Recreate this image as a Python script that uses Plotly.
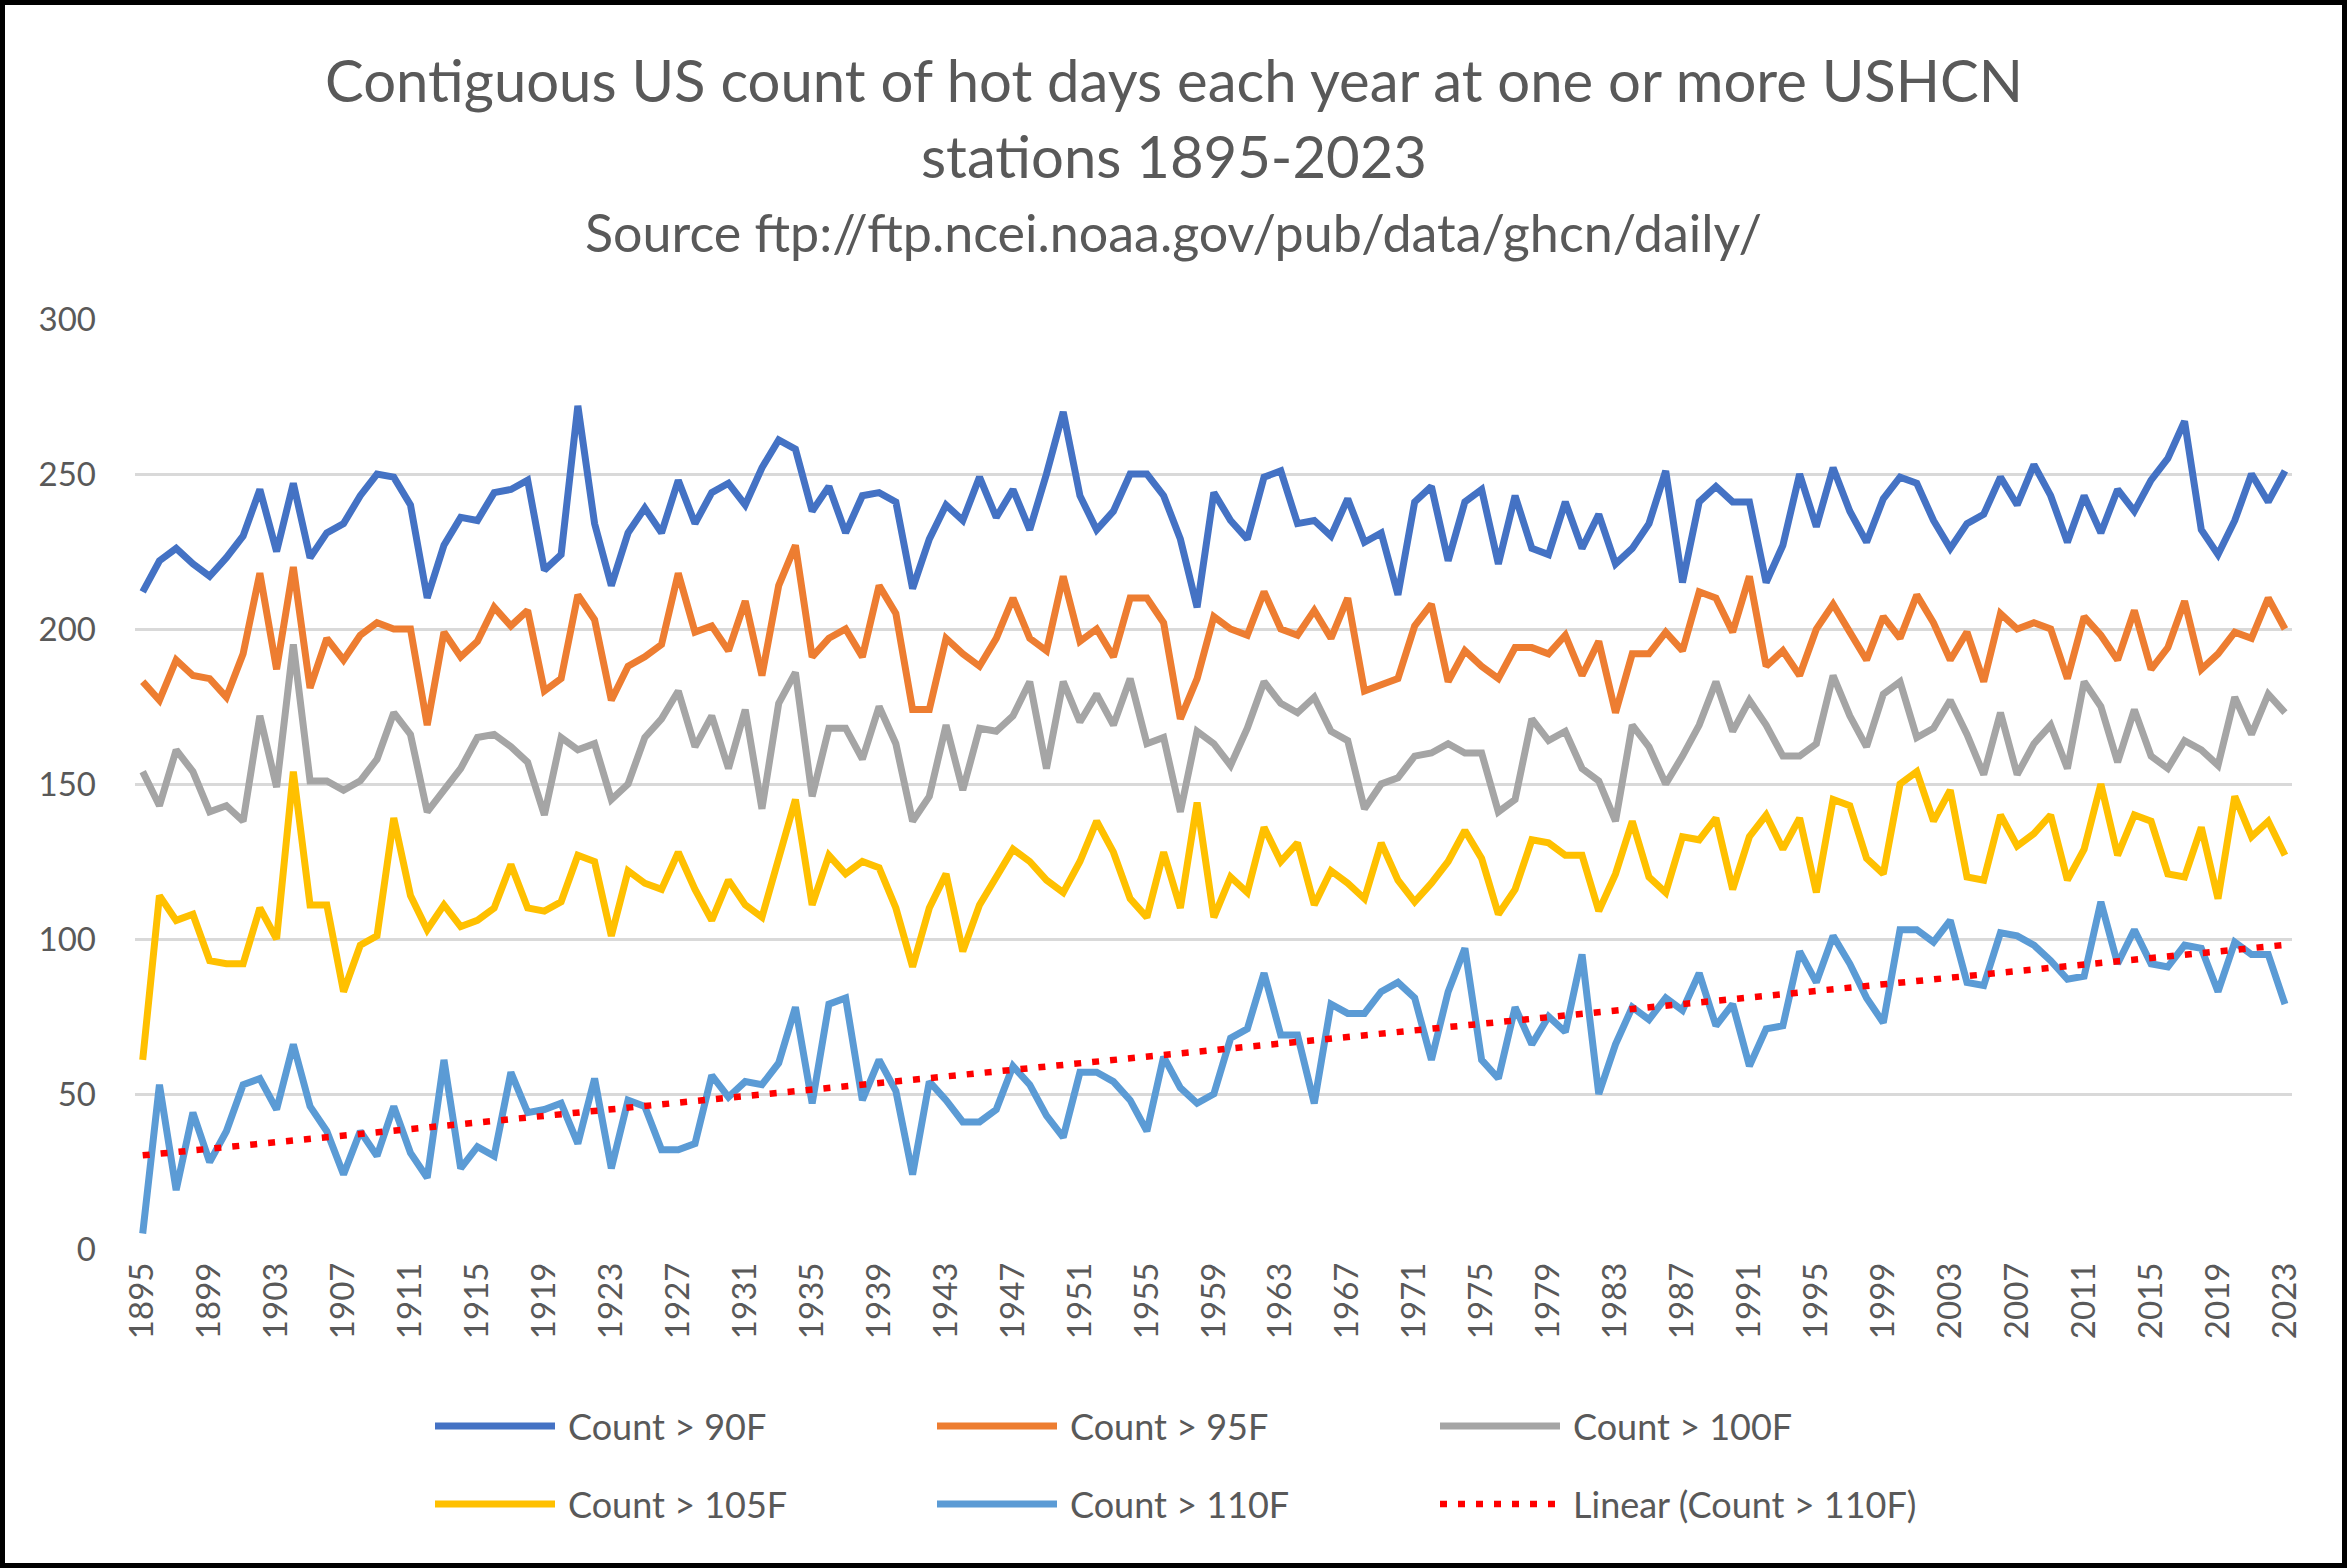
import numpy as np
import plotly.graph_objects as go

years = list(range(1895, 2024))

count_90 = [
    212, 222, 226, 221, 217,
    223, 230, 245, 225, 247, 223, 231, 234, 243, 250,
    249, 240, 210, 227, 236, 235, 244, 245, 248, 219,
    224, 272, 234, 214, 231, 239, 231, 248, 234, 244,
    247, 240, 252, 261, 258, 238, 246, 231, 243, 244,
    241, 213, 229, 240, 235, 249, 236, 245, 232, 250,
    270, 243, 232, 238, 250, 250, 243, 229, 207, 244,
    235, 229, 249, 251, 234, 235, 230, 242, 228, 231,
    211, 241, 246, 222, 241, 245, 221, 243, 226, 224,
    241, 226, 237, 221, 226, 234, 251, 215, 241, 246,
    241, 241, 215, 227, 250, 233, 252, 238, 228, 242,
    249, 247, 235, 226, 234, 237, 249, 240, 253, 243,
    228, 243, 231, 245, 238, 248, 255, 267, 232, 224,
    235, 250, 241, 251,
]

count_95 = [
    183, 177, 190, 185, 184,
    178, 192, 218, 187, 220, 181, 197, 190, 198, 202,
    200, 200, 169, 199, 191, 196, 207, 201, 206, 180,
    184, 211, 203, 177, 188, 191, 195, 218, 199, 201,
    193, 209, 185, 214, 227, 191, 197, 200, 191, 214,
    205, 174, 174, 197, 192, 188, 197, 210, 197, 193,
    217, 196, 200, 191, 210, 210, 202, 171, 184, 204,
    200, 198, 212, 200, 198, 206, 197, 210, 180, 182,
    184, 201, 208, 183, 193, 188, 184, 194, 194, 192,
    198, 185, 196, 173, 192, 192, 199, 193, 212, 210,
    199, 217, 188, 193, 185, 200, 208, 199, 190, 204,
    197, 211, 202, 190, 199, 183, 205, 200, 202, 200,
    184, 204, 198, 190, 206, 187, 194, 209, 187, 192,
    199, 197, 210, 200,
]

count_100 = [
    154, 143, 161, 154, 141,
    143, 138, 172, 149, 195, 151, 151, 148, 151, 158,
    173, 166, 141, 148, 155, 165, 166, 162, 157, 140,
    165, 161, 163, 145, 150, 165, 171, 180, 162, 172,
    155, 174, 142, 176, 186, 146, 168, 168, 158, 175,
    163, 138, 146, 169, 148, 168, 167, 172, 183, 155,
    183, 170, 179, 169, 184, 163, 165, 141, 167, 163,
    156, 168, 183, 176, 173, 178, 167, 164, 142, 150,
    152, 159, 160, 163, 160, 160, 141, 145, 171, 164,
    167, 155, 151, 138, 169, 162, 150, 159, 169, 183,
    167, 177, 169, 159, 159, 163, 185, 172, 162, 179,
    183, 165, 168, 177, 166, 153, 173, 153, 163, 169,
    155, 183, 175, 157, 174, 159, 155, 164, 161, 156,
    178, 166, 179, 173,
]

count_105 = [
    61, 114, 106, 108, 93,
    92, 92, 110, 100, 154, 111, 111, 83, 98, 101,
    139, 114, 103, 111, 104, 106, 110, 124, 110, 109,
    112, 127, 125, 101, 122, 118, 116, 128, 116, 106,
    119, 111, 107, 126, 145, 111, 127, 121, 125, 123,
    110, 91, 110, 121, 96, 111, 120, 129, 125, 119,
    115, 125, 138, 128, 113, 107, 128, 110, 144, 107,
    120, 115, 136, 125, 131, 111, 122, 118, 113, 131,
    119, 112, 118, 125, 135, 126, 108, 116, 132, 131,
    127, 127, 109, 121, 138, 120, 115, 133, 132, 139,
    116, 133, 140, 129, 139, 115, 145, 143, 126, 121,
    150, 154, 138, 148, 120, 119, 140, 130, 134, 140,
    119, 129, 150, 127, 140, 138, 121, 120, 136, 113,
    146, 133, 138, 127,
]

count_110 = [
    5, 53, 19, 44, 28,
    38, 53, 55, 45, 66, 46, 38, 24, 38, 30,
    46, 31, 23, 61, 26, 33, 30, 57, 44, 45,
    47, 34, 55, 26, 48, 46, 32, 32, 34, 56,
    49, 54, 53, 60, 78, 47, 79, 81, 48, 61,
    51, 24, 54, 48, 41, 41, 45, 59, 53, 43,
    36, 57, 57, 54, 48, 38, 62, 52, 47, 50,
    68, 71, 89, 69, 69, 47, 79, 76, 76, 83,
    86, 81, 61, 83, 97, 61, 55, 78, 66, 75,
    70, 95, 50, 66, 78, 74, 81, 77, 89, 72,
    79, 59, 71, 72, 96, 86, 101, 92, 81, 73,
    103, 103, 99, 106, 86, 85, 102, 101, 98, 93,
    87, 88, 112, 92, 103, 92, 91, 98, 97, 83,
    99, 95, 95, 79,
]

series_names = ["Count > 90F", "Count > 95F", "Count > 100F", "Count > 105F", "Count > 110F"]
trend_name = "Linear (Count > 110F)"
title_lines = ["Contiguous US count of hot days each year at one or more USHCN",
               "stations 1895-2023"]
source_line = "Source ftp://ftp.ncei.noaa.gov/pub/data/ghcn/daily/"

for s in (count_90, count_95, count_100, count_105, count_110):
    assert len(s) == len(years), len(s)

colors = ["#4472C4", "#ED7D31", "#A5A5A5", "#FFC000", "#5B9BD5"]
trend_color = "#FF0000"
text_color = "#595959"
FONT = "Lato"

# linear trendline of the >110F series
coef = np.polyfit(years, count_110, 1)
trend = np.polyval(coef, years)

fig = go.Figure()
for name, vals, col in zip(series_names, [count_90, count_95, count_100, count_105, count_110], colors):
    fig.add_trace(go.Scatter(x=years, y=vals, mode="lines", name=name,
                             line=dict(color=col, width=7), showlegend=False))
fig.add_trace(go.Scatter(x=years, y=trend, mode="lines", name=trend_name,
                         line=dict(color=trend_color, width=6.5, dash="7px,11px"),
                         showlegend=False))

W, H = 2347, 1568
L, R, T, B = 135, 55, 319, 319
pw, ph = W - L - R, H - T - B

def px_x(x):
    return (x - L) / pw

def px_y(y):
    return (H - B - y) / ph

shapes = []
annotations = []

# title
annotations.append(dict(text=title_lines[0], x=px_x(W / 2 - 0), y=px_y(80), xref="paper", yref="paper",
                        xanchor="center", yanchor="middle", showarrow=False,
                        font=dict(family=FONT, size=58, color=text_color)))
annotations.append(dict(text=title_lines[1], x=px_x(W / 2), y=px_y(156), xref="paper", yref="paper",
                        xanchor="center", yanchor="middle", showarrow=False,
                        font=dict(family=FONT, size=58, color=text_color)))
annotations.append(dict(text=source_line, x=px_x(W / 2), y=px_y(232), xref="paper", yref="paper",
                        xanchor="center", yanchor="middle", showarrow=False,
                        font=dict(family=FONT, size=52, color=text_color)))

# custom legend (2 rows x 3 cols)
legend_items = [(series_names[0], colors[0], "solid"), (series_names[1], colors[1], "solid"),
                (series_names[2], colors[2], "solid"), (series_names[3], colors[3], "solid"),
                (series_names[4], colors[4], "solid"), (trend_name, trend_color, "dot")]
col_x = [435, 937, 1440]
row_y = [1426, 1504]
for i, (name, col, style) in enumerate(legend_items):
    cx = col_x[i % 3]
    ry = row_y[i // 3]
    shapes.append(dict(type="line", xref="paper", yref="paper",
                       x0=px_x(cx), x1=px_x(cx + 120), y0=px_y(ry), y1=px_y(ry),
                       line=dict(color=col, width=7 if style == "solid" else 6.5,
                                 dash="solid" if style == "solid" else "7px,11px")))
    annotations.append(dict(text=name, x=px_x(cx + 131), y=px_y(ry), xref="paper", yref="paper",
                            xanchor="left", yanchor="middle", showarrow=False,
                            font=dict(family=FONT, size=36, color=text_color)))

# outer border
shapes.append(dict(type="rect", xref="paper", yref="paper",
                   x0=px_x(2.5), x1=px_x(W - 2.5), y0=px_y(H - 2.5), y1=px_y(2.5),
                   line=dict(color="#000000", width=5), fillcolor="rgba(0,0,0,0)", layer="above"))

fig.update_layout(
    width=W, height=H,
    margin=dict(l=L, r=R, t=T, b=B, pad=0),
    paper_bgcolor="white", plot_bgcolor="white",
    font=dict(family=FONT, color=text_color),
    shapes=shapes, annotations=annotations,
    showlegend=False,
)
fig.update_xaxes(range=[1894.54, 2023.42], tickmode="array",
                 tickvals=years[::4], ticktext=[str(y) for y in years[::4]],
                 tickangle=-90, showgrid=False, zeroline=False, showline=False,
                 ticks="", tickfont=dict(family=FONT, size=33, color=text_color),
                 ticklabelstandoff=6)
fig.update_yaxes(range=[0, 300], dtick=50, tick0=0, showgrid=True, gridcolor="#D9D9D9",
                 gridwidth=2.5, zeroline=False, showline=False, ticks="",
                 tickfont=dict(family=FONT, size=33, color=text_color),
                 ticklabelstandoff=38)

fig.write_html("out.html", config={"displayModeBar": False},
               post_script="document.body.style.margin='0';document.body.style.overflow='hidden';")
